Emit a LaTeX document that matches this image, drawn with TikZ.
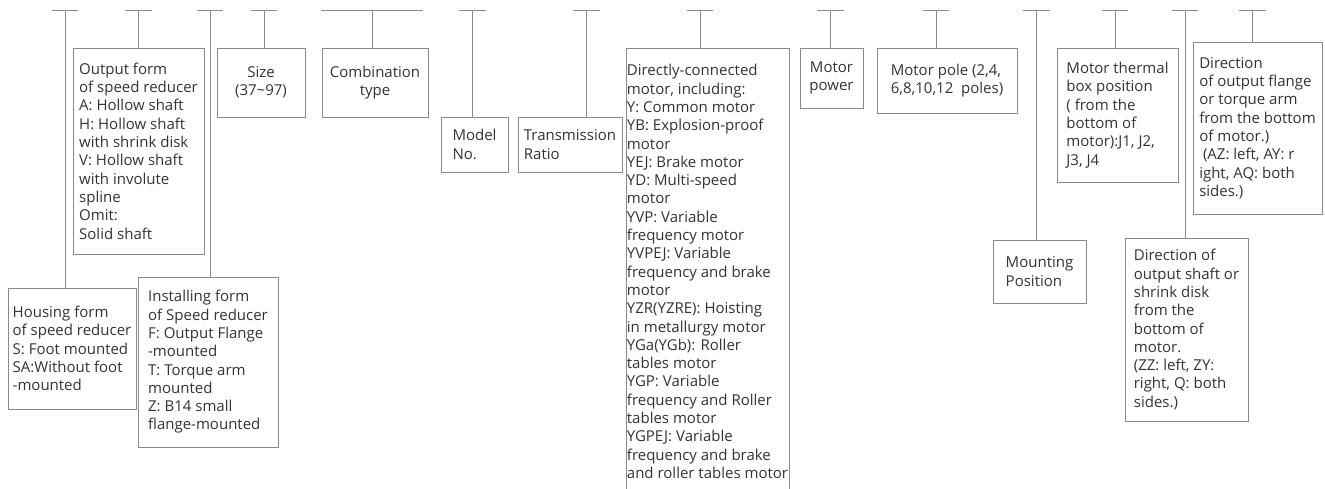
\documentclass[tikz,border=0pt]{standalone}
\usepackage{fontspec}
\newfontfamily\diagfont{Open Sans}
\definecolor{linec}{HTML}{8A8A8A}
\definecolor{txtc}{HTML}{333333}
\tikzset{
  box/.style={draw=linec, line width=0.8pt, text=txtc, align=left, outer sep=0pt,
    inner sep=0pt, font={\diagfont\fontsize{15}{18.3}\selectfont}},
  cbox/.style={box, align=center},
  tbar/.style={draw=linec, line width=0.8pt},
  conn/.style={draw=linec, line width=0.8pt},
}
\begin{document}
\begin{tikzpicture}[x=1pt,y=-1pt]
\useasboundingbox (0,0) rectangle (1325,489);
\clip (0,0) rectangle (1325,489);

% boxes (x1,y1)-(x2,y2)
\node[box, minimum width=128, minimum height=121] (housing) at (72,348.5)
  {Housing form\\of speed reducer\\S: Foot mounted\\SA:Without foot\\-mounted};
\node[box, minimum width=131, minimum height=206] (output) at (138.5,151)
  {Output form\\of speed reducer\\A: Hollow shaft\\H: Hollow shaft\\with shrink disk\\V: Hollow shaft\\with involute\\spline\\Omit:\\Solid shaft};
\node[box, minimum width=140, minimum height=170] (install) at (208,362)
  {Installing form\\of Speed reducer\\F: Output Flange\\-mounted\\T: Torque arm\\mounted\\Z: B14 small\\flange-mounted};
\node[cbox, minimum width=88, minimum height=69] (size) at (261,82.5)
  {Size\\(37\char"7E 97)};
\node[cbox, minimum width=106, minimum height=69] (combo) at (375,82.5)
  {Combination\\type};
\node[box, minimum width=67, minimum height=55] (model) at (474.5,144.5)
  {Model\\No.};
\node[box, minimum width=104, minimum height=55] (trans) at (570,144.5)
  {Transmission\\Ratio};
\node[box, draw=none, minimum width=163, inner ysep=16.5pt, anchor=north] (motor) at (707.5,48)
  {Directly-connected\\motor, including:\\Y: Common motor\\YB: Explosion-proof\\motor\\YEJ: Brake motor\\YD: Multi-speed\\motor\\YVP: Variable\\frequency motor\\YVPEJ: Variable\\frequency and brake\\motor\\YZR(YZRE): Hoisting\\in metallurgy motor\\YGa(YGb): Roller\\tables motor\\YGP: Variable\\frequency and Roller\\tables motor\\YGPEJ: Variable\\frequency and brake\\and roller tables motor};
\coordinate (mbl) at (626,500);
\coordinate (mbr) at (789,500);
\draw[conn] (mbl) -- (mbl |- 0,48) -- (mbr |- 0,48) -- (mbr);
\node[cbox, minimum width=63, minimum height=60] (power) at (831.5,78)
  {Motor\\power};
\node[box, minimum width=140, minimum height=65] (pole) at (947,80.5)
  {Motor pole (2,4,\\6,8,10,12\ \ poles)};
\node[box, minimum width=93, minimum height=63] (mount) at (1039.5,271.5)
  {Mounting\\Position};
\node[box, minimum width=121, minimum height=134] (thermal) at (1117.5,115)
  {Motor thermal\\box position\\( from the\\bottom of\\motor):J1, J2,\\J3, J4};
\node[box, minimum width=123, minimum height=183] (shaft) at (1186.5,329.5)
  {Direction of\\output shaft or\\shrink disk\\from the\\bottom of\\motor.\\(ZZ: left, ZY:\\right, Q: both\\sides.)};
\node[box, minimum width=129, minimum height=172] (flange) at (1257.5,128)
  {Direction\\of output flange\\or torque arm\\from the bottom\\of motor.)\\\hspace*{0.25em}(AZ: left, AY: r\\ight, AQ: both\\sides.)};

% tick bars
\foreach \n/\x/\h in {t1/65/13, t2/138.5/13.5, t3/210/13, t4/264/13, t5/372/51,
  t6/472.5/13.5, t7/586.5/13.5, t8/700/13, t9/830.5/13.5, t10/936/13,
  t11/1036.5/13.5, t12/1115/13, t13/1185/13, t14/1252.5/13.5}{
  \coordinate (\n) at (\x,10);
  \draw[tbar] ([xshift=-\h pt]\n) -- ([xshift=\h pt]\n);
}
% connectors
\draw[conn] (t1) -- (t1 |- housing.north);
\draw[conn] (t2) -- (t2 |- output.north);
\draw[conn] (t3) -- (t3 |- install.north);
\draw[conn] (t4) -- (t4 |- size.north);
\draw[conn] (t5) -- (t5 |- combo.north);
\draw[conn] (t6) -- (t6 |- model.north);
\draw[conn] (t7) -- (t7 |- trans.north);
\draw[conn] (t8) -- (t8 |- mbl |- 0,48);
\draw[conn] (t9) -- (t9 |- power.north);
\draw[conn] (t10) -- (t10 |- pole.north);
\draw[conn] (t11) -- (t11 |- mount.north);
\draw[conn] (t12) -- (t12 |- thermal.north);
\draw[conn] (t13) -- (t13 |- shaft.north);
\draw[conn] (t14) -- (t14 |- flange.north);
\end{tikzpicture}
\end{document}
